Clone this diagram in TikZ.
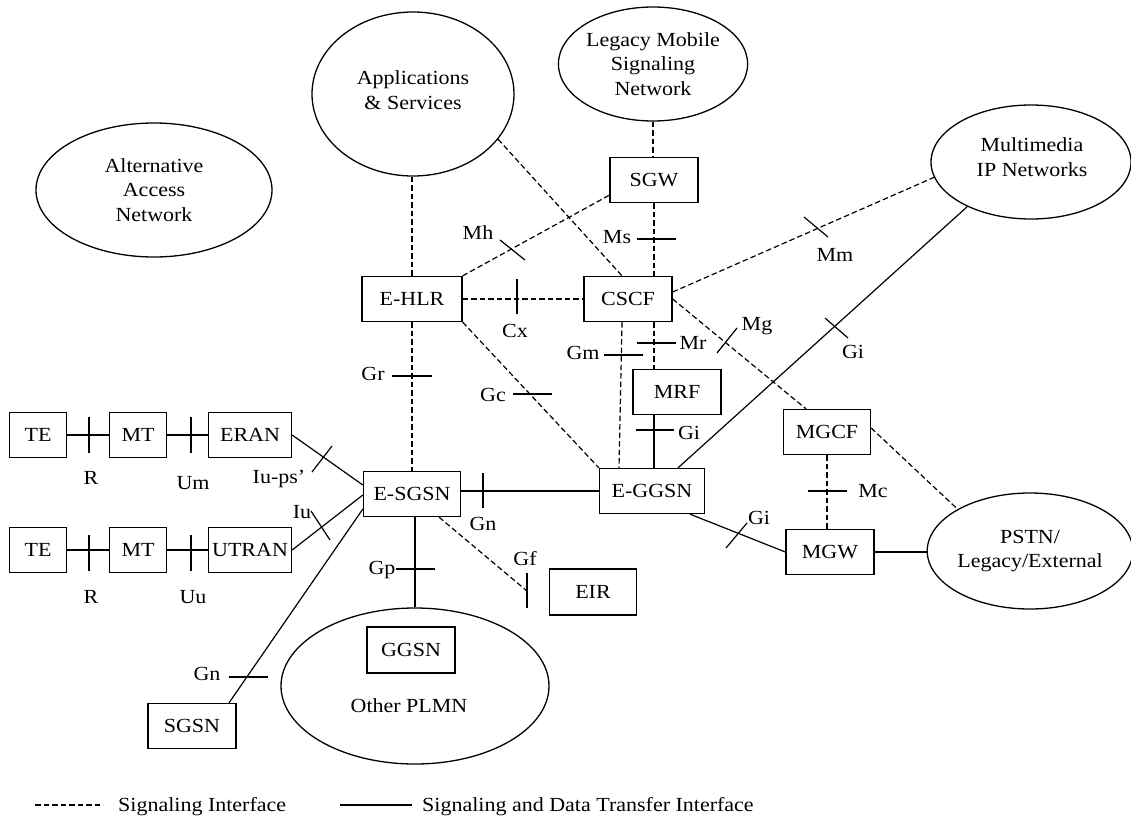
\documentclass[tikz,border=0pt]{standalone}
\usepackage{fontspec}
\setmainfont{Liberation Serif}[FakeStretch=1.1]
\usetikzlibrary{shapes.geometric,calc}
\begin{document}
\begin{tikzpicture}[x=1pt,y=-1pt,
  txt/.style={font=\fontsize{20}{24.5}\selectfont},
  lbl/.style={txt, inner sep=0pt},
  box/.style={txt, draw, line width=1.3pt, rectangle, minimum height=45pt, inner sep=0pt},
  net/.style={txt, draw, line width=1.3pt, ellipse, inner sep=0pt, align=center},
  sig/.style={line width=1.2pt, dash pattern=on 5.5pt off 3pt},
  dat/.style={line width=1.2pt},
  tk/.style={line width=1.2pt},
]
\useasboundingbox (0,0) rectangle (1131,819);

% networks
\node[net, minimum width=236pt, minimum height=134pt] (alt) at (154,190) {Alternative\\Access\\Network};
\node[net, minimum width=202pt, minimum height=164pt] (apps) at (413,94) {};
\node[lbl, align=center] at (413,90) {Applications\\\& Services};
\node[net, minimum width=186pt, minimum height=114pt] (legacy) at (653,64) {Legacy Mobile\\Signaling\\Network};
\node[net, minimum width=200pt, minimum height=114pt] (mm) at (1031,162) {};
\node[lbl, align=center] at (1032,157) {Multimedia\\IP Networks};
\node[net, minimum width=200pt, minimum height=116pt] (pstn) at (1030,551) {PSTN/\\Legacy/External};
\node[net, minimum width=268pt, minimum height=156pt] (plmn) at (415,686) {};
\node[lbl] at (409,706) {Other PLMN};

% network elements
\node[box, minimum width=57pt] (te1) at (38,435) {TE};
\node[box, minimum width=57pt] (mt1) at (138,435) {MT};
\node[box, minimum width=83pt] (eran) at (250,435) {ERAN};
\node[box, minimum width=57pt] (te2) at (38,550) {TE};
\node[box, minimum width=57pt] (mt2) at (138,550) {MT};
\node[box, minimum width=83pt] (utran) at (250,550) {UTRAN};
\node[box, minimum width=97pt] (esgsn) at (412,494) {E-SGSN};
\node[box, minimum width=100pt] (ehlr) at (412,299) {E-HLR};
\node[box, minimum width=88pt] (cscf) at (628,299) {CSCF};
\node[box, minimum width=88pt] (sgw) at (654,180) {SGW};
\node[box, minimum width=88pt] (mrf) at (677,392) {MRF};
\node[box, minimum width=105pt] (eggsn) at (652,491) {E-GGSN};
\node[box, minimum width=87pt] (mgcf) at (827,432) {MGCF};
\node[box, minimum width=88pt] (mgw) at (830,552) {MGW};
\node[box, minimum width=87pt, minimum height=46pt] (eir) at (593,592) {EIR};
\node[box, minimum width=88pt, minimum height=46pt] (ggsn) at (411,650) {GGSN};
\node[box, minimum width=88pt] (sgsn) at (192,726) {SGSN};
\coordinate (gfend) at (527,591);

% signaling interfaces
\draw[sig] (ehlr.north) -- (ehlr.north |- apps.south);
\draw[sig] (apps.-28) -- ($(cscf.north)+(-6,0)$);
\draw[sig] (legacy.south) -- (legacy.south |- sgw.north);
\draw[sig] (sgw.south) -- (sgw.south |- cscf.north);
\draw[sig] (ehlr.north east) -- ($(sgw.south west)+(0,-8)$);
\draw[sig] (ehlr.east) -- (cscf.west);
\draw[sig] (ehlr.south) -- (ehlr.south |- esgsn.north);
\draw[sig] (ehlr.south east) -- (eggsn.north west);
\draw[sig] ($(cscf.east)+(0,-7)$) -- (mm.189);
\draw[sig] (cscf.east) -- ($(mgcf.north)+(-21,0)$);
\draw[sig] ($(cscf.south)+(26,0)$) coordinate (mrtop) -- (mrtop |- mrf.north);
\draw[sig] ($(cscf.south)+(-6,0)$) -- ($(eggsn.north)+(-33,0)$);
\draw[sig] (mgcf.south) -- (mgcf.south |- mgw.north);
\draw[sig] ($(mgcf.east)+(0,-4)$) -- (pstn.150);
\draw[sig] ($(esgsn.south)+(27,0)$) -- (gfend);

% signaling and data transfer interfaces
\draw[dat] ($(mrf.south)+(-23,0)$) coordinate (gib) -- (gib |- eggsn.north);
\draw[dat] ($(eggsn.north)+(26,0)$) -- (mm.215);
\draw[dat] ($(eggsn.south)+(38,0)$) -- (mgw.west);
\draw[dat] (mgw.east) -- (mgw.east -| pstn.west);
\draw[dat] (eggsn.west) -- (eggsn.west -| esgsn.east);
\draw[dat] (esgsn.south -| plmn.north) -- (plmn.north);
\draw[dat] ($(sgsn.north)+(37,0)$) -- ($(esgsn.west)+(0,15)$);
\draw[dat] (eran.east) -- ($(esgsn.west)+(0,-9)$);
\draw[dat] (utran.east) -- ($(esgsn.west)+(0,1)$);
\draw[dat] (te1.east) -- (mt1.west);
\draw[dat] (mt1.east) -- (eran.west);
\draw[dat] (te2.east) -- (mt2.west);
\draw[dat] (mt2.east) -- (utran.west);

% interface reference marks
\draw[tk] (89,417) -- (89,453);
\draw[tk] (191,417) -- (191,453);
\draw[tk] (89,535) -- (89,571);
\draw[tk] (191,535) -- (191,571);
\draw[tk] (312,472) -- (332,446);
\draw[tk] (311,511) -- (330,540);
\draw[tk] (229,677) -- (268,677);
\draw[tk] (396,569) -- (435,569);
\draw[tk] (527,573) -- (527,608);
\draw[tk] (483,473) -- (483,508);
\draw[tk] (392,376) -- (432,376);
\draw[tk] (513,394) -- (552,394);
\draw[tk] (517,279) -- (517,314);
\draw[tk] (604,355) -- (643,355);
\draw[tk] (637,343) -- (676,343);
\draw[tk] (636,430) -- (674,430);
\draw[tk] (500,240) -- (525,260);
\draw[tk] (637,239) -- (676,239);
\draw[tk] (804,217) -- (828,237);
\draw[tk] (717,353) -- (737,328);
\draw[tk] (825,318) -- (848,338);
\draw[tk] (726,548) -- (747,523);
\draw[tk] (808,491) -- (847,491);

% interface names
\node[lbl] at (91,478) {R};
\node[lbl] at (193,483) {Um};
\node[lbl] at (91,597) {R};
\node[lbl] at (193,597) {Uu};
\node[lbl] at (279,479) {Iu-ps'};
\node[lbl] at (302,512) {Iu};
\node[lbl] at (207,674) {Gn};
\node[lbl] at (382,570) {Gp};
\node[lbl] at (525,559) {Gf};
\node[lbl] at (483,524) {Gn};
\node[lbl] at (373,374) {Gr};
\node[lbl] at (493,395) {Gc};
\node[lbl] at (515,331) {Cx};
\node[lbl] at (583,353) {Gm};
\node[lbl] at (693,343) {Mr};
\node[lbl] at (689,433) {Gi};
\node[lbl] at (478,233) {Mh};
\node[lbl] at (617,237) {Ms};
\node[lbl] at (835,255) {Mm};
\node[lbl] at (757,326) {Mg};
\node[lbl] at (853,352) {Gi};
\node[lbl] at (759,518) {Gi};
\node[lbl] at (873,491) {Mc};

% legend
\draw[sig] (35,805) -- (103,805);
\node[lbl, anchor=west] at (118,807) {Signaling Interface};
\draw[dat] (340,805) -- (412,805);
\node[lbl, anchor=west] at (422,807) {Signaling and Data Transfer Interface};
\end{tikzpicture}
\end{document}
